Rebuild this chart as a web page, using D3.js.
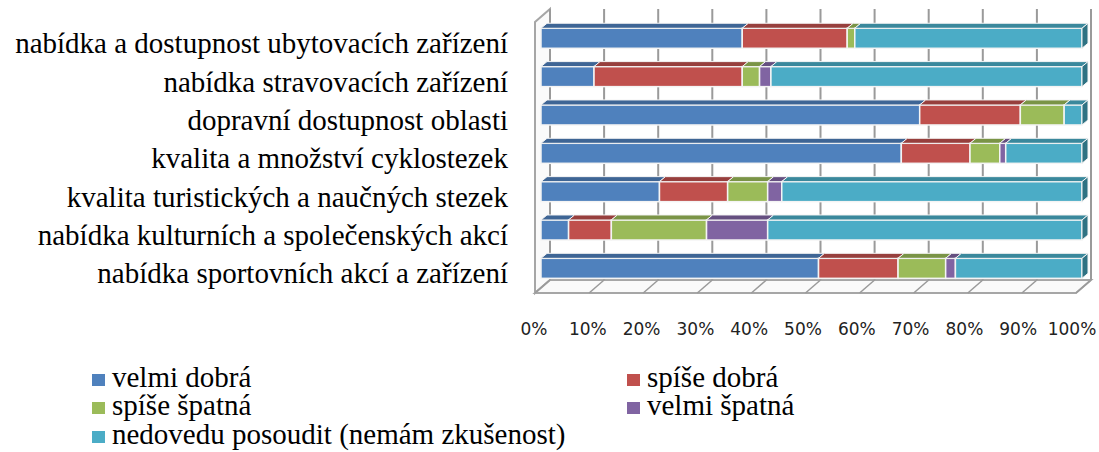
<!DOCTYPE html>
<html>
<head>
<meta charset="utf-8">
<script src="https://cdn.jsdelivr.net/npm/d3@7"></script>
</head>
<body style="margin:0;background:#fff">
<svg id="chart" width="1099" height="452" style="display:block"></svg>
<script>
const categories = [
  "nabídka a dostupnost ubytovacích zařízení",
  "nabídka stravovacích zařízení",
  "dopravní dostupnost oblasti",
  "kvalita a množství cyklostezek",
  "kvalita turistických a naučných stezek",
  "nabídka kulturních a společenských akcí",
  "nabídka sportovních akcí a zařízení"
];
const seriesNames = ["velmi dobrá", "spíše dobrá", "spíše špatná", "velmi špatná", "nedovedu posoudit (nemám zkušenost)"];
const velmiDobra  = [37.2,  9.8, 70.0, 66.6, 21.9,  5.1, 51.3];
const spiseDobra  = [19.4, 27.4, 18.6, 12.7, 12.6,  7.9, 14.7];
const spiseSpatna = [ 1.4,  3.2,  8.1,  5.5,  7.4, 17.6,  8.8];
const velmiSpatna = [ 0.0,  2.1,  0.0,  1.1,  2.6, 11.3,  1.8];
const nedovedu    = [42.0, 57.5,  3.3, 14.1, 55.5, 58.1, 23.4];
const xTicks = [0, 10, 20, 30, 40, 50, 60, 70, 80, 90, 100];

const front = ["#4f81bd", "#c0504d", "#9bbb59", "#8064a2", "#4bacc6"];
const top_  = ["#3e6595", "#973f3d", "#7a9446", "#654f80", "#3a889c"];
const side  = ["#355780", "#813634", "#687f3c", "#56436e", "#2f7283"];

const SERIF = "'Liberation Serif', 'Times New Roman', serif";
const SANS = "'DejaVu Sans', Verdana, sans-serif";

const svg = d3.select("#chart");
const keys = ["vd", "sd", "ss", "vs", "nd"];
const rows = categories.map((c, i) => ({
  cat: c, vd: velmiDobra[i], sd: spiseDobra[i], ss: spiseSpatna[i], vs: velmiSpatna[i], nd: nedovedu[i]
}));
const stacked = d3.stack().keys(keys)(rows);

// 3D box geometry
const x = d3.scaleLinear().domain([0, 100]).range([535, 1076]);
const xLabel = d3.scaleLinear().domain([0, 100]).range([534, 1072]);
const floorY = 293, backY = 280, topY = 9;
const DX = 15, DY = 13;          // depth of the box
const bdx = 6, bdy = 5, boff = 6; // bar depth and offset from front
const y = d3.scaleBand().domain(categories).range([19.1, 287.5]).paddingInner(0.478).paddingOuter(0.239);

const grid = svg.append("g");
// left wall
grid.append("path")
  .attr("d", `M${x(0)},${floorY} L${x(0)},${topY + DY} L${x(0) + DX},${topY} L${x(0) + DX},${backY} Z`)
  .attr("fill", "#fafafa").attr("stroke", "#a6a6a6").attr("stroke-width", 2);
// floor
grid.append("path")
  .attr("d", `M${x(0)},${floorY} L${x(100)},${floorY} L${x(100) + DX},${backY} L${x(0) + DX},${backY} Z`)
  .attr("fill", "#fafafa").attr("stroke", "#a6a6a6").attr("stroke-width", 2);
// back wall gridlines
grid.selectAll("line.bg").data(xTicks).join("line").attr("class", "bg")
  .attr("x1", d => x(d) + DX).attr("x2", d => x(d) + DX)
  .attr("y1", topY).attr("y2", backY)
  .attr("stroke", "#9a9a9a").attr("stroke-width", 2);
// floor gridlines
grid.selectAll("line.fg").data(xTicks).join("line").attr("class", "fg")
  .attr("x1", d => x(d)).attr("x2", d => x(d) + DX)
  .attr("y1", floorY).attr("y2", backY)
  .attr("stroke", "#9a9a9a").attr("stroke-width", 1.5);

// bars
const bars = svg.append("g");
categories.forEach((c, i) => {
  const y0 = y(c), h = y.bandwidth();
  const g = bars.append("g");
  stacked.forEach((s, k) => {
    const [a, b] = s[i];
    if (b - a <= 0) return;
    const xa = x(a) + boff, xb = x(b) + boff;
    g.append("rect").attr("x", xa).attr("y", y0).attr("width", xb - xa).attr("height", h)
      .attr("fill", front[k]).attr("stroke", "#f4f4f4").attr("stroke-width", 1.5);
    g.append("path")
      .attr("d", `M${xa},${y0} L${xa + bdx},${y0 - bdy} L${xb + bdx},${y0 - bdy} L${xb},${y0} Z`)
      .attr("fill", top_[k]).attr("stroke", "#f4f4f4").attr("stroke-width", 1);
    if (b >= 99.99) {
      g.append("path")
        .attr("d", `M${xb},${y0} L${xb + bdx},${y0 - bdy} L${xb + bdx},${y0 + h - bdy} L${xb},${y0 + h} Z`)
        .attr("fill", side[k]).attr("stroke", "#f4f4f4").attr("stroke-width", 1);
    }
  });
});

// category labels
svg.append("g").selectAll("text").data(categories).join("text")
  .attr("x", 508).attr("y", d => y(d) + y.bandwidth() / 2 + 15)
  .attr("text-anchor", "end")
  .style("font-family", SERIF).style("font-size", "29px").attr("fill", "#000")
  .text(d => d);

// x axis labels
svg.append("g").selectAll("text").data(xTicks).join("text")
  .attr("x", d => xLabel(d)).attr("y", 335)
  .attr("text-anchor", "middle")
  .style("font-family", SANS).style("font-size", "17px").attr("fill", "#222")
  .text(d => d + "%");

// legend
const legPos = [[92, 387], [627, 387], [92, 415], [627, 415], [92, 444]];
const leg = svg.append("g").selectAll("g").data(seriesNames).join("g")
  .attr("transform", (d, i) => `translate(${legPos[i][0]},${legPos[i][1]})`);
leg.append("rect").attr("x", 0).attr("y", -13).attr("width", 13).attr("height", 12)
  .attr("fill", (d, i) => front[i]);
leg.append("text").attr("x", 20).attr("y", 0)
  .style("font-family", SERIF).style("font-size", "29px").attr("fill", "#000")
  .text(d => d);
</script>
</body>
</html>
